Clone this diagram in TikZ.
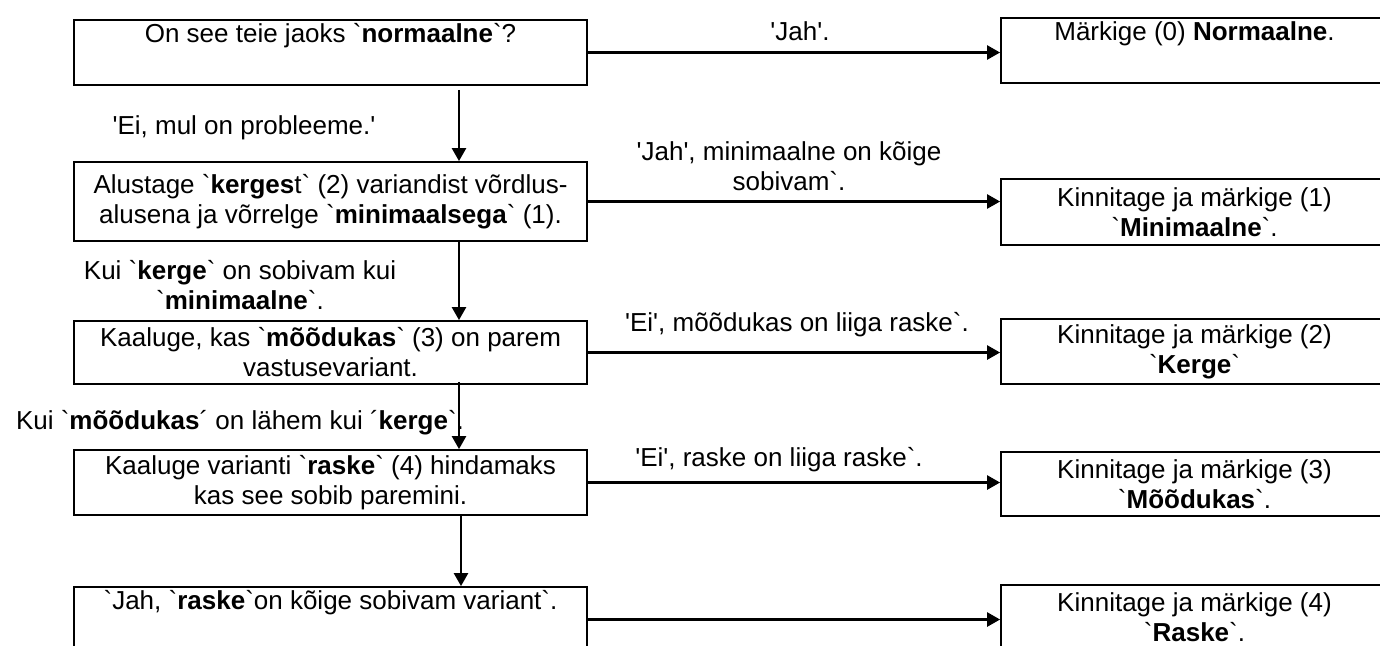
\documentclass[tikz,border=0pt]{standalone}
\usepackage{fontspec}
\setmainfont{Liberation Sans}[Ligatures=TeXOff]
\usetikzlibrary{arrows.meta}
\begin{document}
\begin{tikzpicture}[x=1pt,y=-1pt,
  txt/.style={font=\fontsize{26}{30}\selectfont},
  box/.style={txt, draw, line width=1.8pt, align=center, inner sep=0pt},
  lbox/.style={box, minimum width=513pt},
  rbox/.style={box, minimum width=387pt},
  lbl/.style={txt, align=center, inner sep=0pt},
  arr/.style={line width=2.5pt, -{Triangle[length=13pt,width=14pt]}}]
\clip (0,0) rectangle (1380,645);
\fill[white] (0,0) rectangle (1380,645);
% left column
\node[lbox, minimum height=65pt] (L1) at (330.5,52.5) {On see teie jaoks `\textbf{normaalne}`?\\\strut};
\node[lbox, minimum height=79pt] (L2) at (330.5,201.5) {Alustage `\textbf{kerges}t` (2) variandist võrdlus-\\alusena ja võrrelge `\textbf{minimaalsega}` (1).};
\node[lbox, minimum height=63pt] (L3) at (330.5,352.5) {Kaaluge, kas `\textbf{mõõdukas}` (3) on parem\\vastusevariant.};
\node[lbox, minimum height=65pt] (L4) at (330.5,482.5) {Kaaluge varianti `\textbf{raske}` (4) hindamaks\\kas see sobib paremini.};
\node[lbox, minimum height=65pt] (L5) at (330.5,619.5) {`Jah, `\textbf{raske}`on kõige sobivam variant`.\\\strut};
% right column
\node[rbox, minimum height=65pt] (R0) at (1194.5,50.5) {Märkige (0) \textbf{Normaalne}.\\\strut};
\node[rbox, minimum height=66pt] (R1) at (1194.5,212) {Kinnitage ja märkige (1)\\`\textbf{Minimaalne}`.};
\node[rbox, minimum height=65pt] (R2) at (1194.5,351.5) {Kinnitage ja märkige (2)\\`\textbf{Kerge}`};
\node[rbox, minimum height=64pt] (R3) at (1194.5,484) {Kinnitage ja märkige (3)\\`\textbf{Mõõdukas}`.};
\node[rbox, minimum height=65pt] (R4) at (1194.5,617.5) {Kinnitage ja märkige (4)\\`\textbf{Raske}`.};
% labels
\node[lbl] (t1) at (800,31) {'Jah'.};
\node[lbl] (t2) at (789,166) {'Jah', minimaalne on kõige\\sobivam`.};
\node[lbl] (t3) at (797,325) {'Ei', mõõdukas on liiga raske`.};
\node[lbl] (t4) at (779,460) {'Ei', raske on liiga raske`.};
\node[lbl] (t5) at (244,128) {'Ei, mul on probleeme.'};
\node[lbl] (t6) at (240,285) {Kui `\textbf{kerge}` on sobivam kui\\`\textbf{minimaalne}`.};
\node[lbl] (t7) at (240,423) {Kui `\textbf{mõõdukas}´ on lähem kui ´\textbf{kerge}`.};
% horizontal connectors
\draw[arr] (L1.east) -- (L1.east -| R0.west);
\draw[arr] (L2.east) -- (L2.east -| R1.west);
\draw[arr] (L3.east) -- (L3.east -| R2.west);
\draw[arr] (L4.east) -- (L4.east -| R3.west);
\draw[arr] (L5.east) -- (L5.east -| R4.west);
% vertical connectors
\draw[arr] ([xshift=128.5pt,yshift=-4pt]L1.south) -- ([xshift=128.5pt]L2.north);
\draw[arr] ([xshift=128.5pt]L2.south) -- ([xshift=128.5pt]L3.north);
\draw[arr] ([xshift=128.5pt,yshift=3pt]L3.south) -- ([xshift=128.5pt]L4.north);
\draw[arr] ([xshift=130.5pt]L4.south) -- ([xshift=130.5pt]L5.north);
\end{tikzpicture}
\end{document}
